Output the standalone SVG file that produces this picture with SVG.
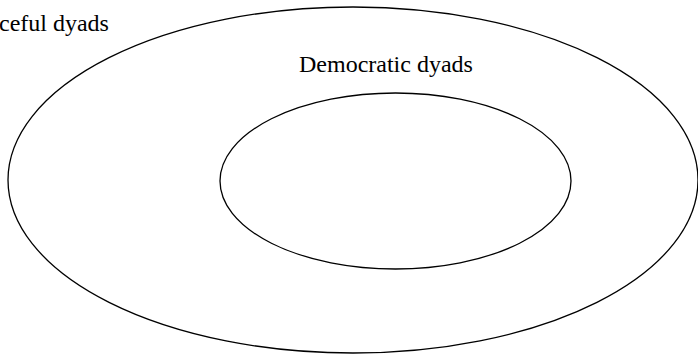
<svg xmlns="http://www.w3.org/2000/svg" width="698" height="357" viewBox="0 0 698 357">
<style>
.set{fill:none;stroke:#000;stroke-width:1.3}
.lbl{font-family:"Liberation Serif","Times New Roman",serif;font-size:24px;fill:#000}
</style>
<rect width="698" height="357" fill="#fff"/>
<g id="peaceful">
<ellipse class="set" cx="353" cy="180" rx="345" ry="173"/>
<text class="lbl" x="-1" y="31">ceful dyads</text>
</g>
<g id="democratic">
<ellipse class="set" cx="395.5" cy="181" rx="175.5" ry="88"/>
<text class="lbl" x="299" y="72">Democratic dyads</text>
</g>
<g id="connectors"/>
</svg>
